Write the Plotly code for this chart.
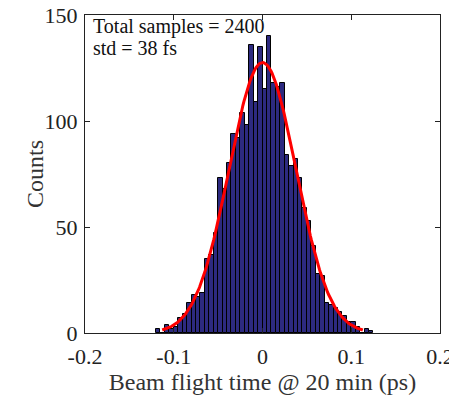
import numpy as np
import plotly.graph_objects as go

# bin left edges (ps) and counts
bin_width = 0.005
bin_starts = [-0.120, -0.115, -0.110, -0.105, -0.100, -0.095, -0.090, -0.085, -0.080, -0.075,
              -0.070, -0.065, -0.060, -0.055, -0.050, -0.045, -0.040, -0.035, -0.030, -0.025,
              -0.020, -0.015, -0.010, -0.005, 0.000, 0.005, 0.010, 0.015, 0.020, 0.025,
              0.030, 0.035, 0.040, 0.045, 0.050, 0.055, 0.060, 0.065, 0.070, 0.075,
              0.080, 0.085, 0.090, 0.095, 0.100, 0.105, 0.110, 0.115, 0.120]
counts = [2, 0, 4, 2, 3, 7, 9, 14, 18, 17,
          19, 35, 37, 47, 73, 68, 80, 94, 92, 104,
          98, 136, 109, 135, 115, 140, 118, 116, 118, 84,
          79, 82, 73, 59, 53, 41, 28, 27, 14, 13,
          12, 10, 8, 5, 5, 3, 0, 2, 1]

x_ticks = [-0.2, -0.1, 0, 0.1, 0.2]
x_tick_text = ["-0.2", "-0.1", "0", "0.1", "0.2"]
y_ticks = [0, 50, 100, 150]
annot_lines = ["Total samples = 2400", "std = 38 fs"]

centers = np.array(bin_starts) + bin_width / 2
c = np.array(counts, dtype=float)
n_total = c.sum()
mu = (c * centers).sum() / n_total
sigma = np.sqrt((c * (centers - mu) ** 2).sum() / n_total)
xf = np.linspace(mu - 3 * sigma, mu + 3 * sigma, 200)
yf = n_total * bin_width / (sigma * np.sqrt(2 * np.pi)) * np.exp(-0.5 * ((xf - mu) / sigma) ** 2)

font_fam = "Liberation Serif"
fig = go.Figure()
fig.add_trace(go.Bar(x=centers, y=counts, width=bin_width,
                     marker=dict(color="#2D2A80", line=dict(color="black", width=1)),
                     showlegend=False))
fig.add_trace(go.Scatter(x=xf, y=yf, mode="lines",
                         line=dict(color="#FF0000", width=3), showlegend=False))

axis_common = dict(showgrid=False, zeroline=False, showline=True, linecolor="#222",
                   linewidth=1, mirror="ticks", ticks="inside", ticklen=5,
                   tickcolor="#222", automargin=False, ticklabeloverflow="allow",
                   tickfont=dict(family=font_fam, size=22, color="#222"))
fig.update_xaxes(range=[-0.2, 0.2], tickvals=x_ticks, ticktext=x_tick_text,
                 ticklabelstandoff=4,
                 title=dict(text="Beam flight time @ 20 min (ps)",
                            font=dict(family=font_fam, size=24, color="#333"), standoff=5),
                 **axis_common)
fig.update_yaxes(range=[0, 150], tickvals=y_ticks, ticklabelstandoff=2, **axis_common)
fig.add_annotation(text="Counts", xref="paper", yref="paper", x=-0.141, y=0.5,
                   xanchor="center", yanchor="middle", textangle=-90, showarrow=False,
                   font=dict(family=font_fam, size=24, color="#333"))
fig.add_annotation(text=annot_lines[0], xref="paper", yref="paper", x=0.018, y=1.005,
                   xanchor="left", yanchor="top", showarrow=False,
                   font=dict(family=font_fam, size=20, color="#111"))
fig.add_annotation(text=annot_lines[1], xref="paper", yref="paper", x=0.018, y=0.937,
                   xanchor="left", yanchor="top", showarrow=False,
                   font=dict(family=font_fam, size=20, color="#111"))
fig.update_layout(width=449, height=395, bargap=0,
                  margin=dict(l=85, r=9, t=15, b=62),
                  plot_bgcolor="white", paper_bgcolor="white")
# remove the browser's default 8px body margin so the figure sits at the page corner
fig.write_html("out.html", config={"displayModeBar": False},
               post_script="document.body.style.margin='0px';")
